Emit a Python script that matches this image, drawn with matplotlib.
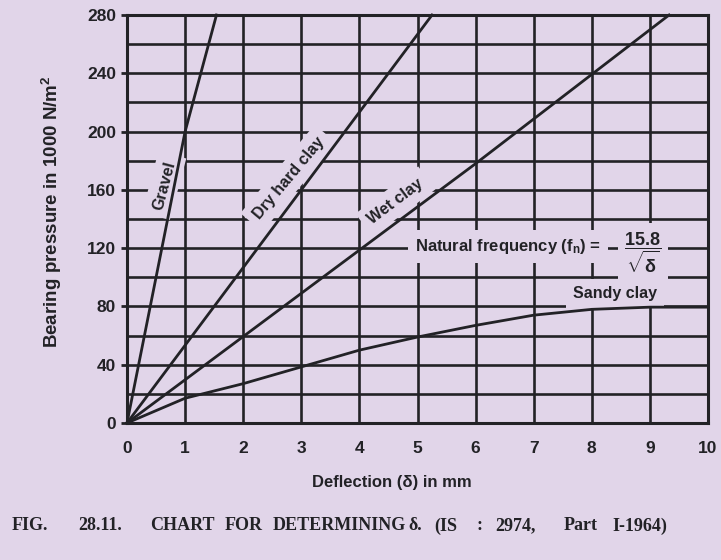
import matplotlib
matplotlib.use("Agg")
import matplotlib.pyplot as plt
import numpy as np

plt.rcParams["mathtext.fontset"] = "custom"
plt.rcParams["mathtext.rm"] = "Liberation Sans:bold"
plt.rcParams["mathtext.bf"] = "Liberation Sans:bold"
plt.rcParams["mathtext.it"] = "Liberation Sans:bold"
plt.rcParams["mathtext.sf"] = "Liberation Sans:bold"

# ---- data ----
gravel_x = [0, 1.0, 1.54]
gravel_y = [0, 200, 280]

dry_hard_clay_x = [0, 3.0, 5.25]
dry_hard_clay_y = [0, 160, 280]

wet_clay_x = [0, 3.0, 6.0, 9.33]
wet_clay_y = [0, 89, 178, 280]

sandy_clay_x = [0, 1, 2, 3, 4, 5, 6, 7, 8, 9, 10]
sandy_clay_y = [0, 17, 27, 38.5, 50, 59, 67, 74, 78, 79.5, 79.5]

x_ticks = [0, 1, 2, 3, 4, 5, 6, 7, 8, 9, 10]
y_ticks = [0, 40, 80, 120, 160, 200, 240, 280]
y_grid = list(range(0, 281, 20))

caption_words = ["FIG.", "28.11.", "CHART", "FOR", "DETERMINING", "\u03b4.",
                 "(IS", ":", "2974,", "Part", "I-1964)"]
caption_px = [12, 78, 150, 225, 273, 408, 434, 476, 495, 564, 612]

BG = "#e1d5e9"
INK = "#222226"
SANS = ["Liberation Sans", "DejaVu Sans"]
SERIF = ["Liberation Serif", "DejaVu Serif"]

W, H = 721, 560
fig = plt.figure(figsize=(W / 100, H / 100), dpi=100, facecolor=BG)
ax = fig.add_axes([127 / W, 1 - 423 / H, (708 - 127) / W, (423 - 15) / H])
ax.set_facecolor(BG)

ax.set_xlim(0, 10)
ax.set_ylim(0, 280)
ax.set_xticks(x_ticks)
ax.set_yticks(y_ticks)
ax.set_yticks(y_grid, minor=True)
ax.grid(True, which="both", color=INK, linewidth=1.9, zorder=1)
ax.set_axisbelow(True)

for s in ax.spines.values():
    s.set_linewidth(2.2)
    s.set_color(INK)

ax.tick_params(axis="y", which="major", length=4, width=2, color=INK, pad=4,
               labelsize=12.5, direction="out")
ax.tick_params(axis="y", which="minor", length=0)
ax.tick_params(axis="x", length=0, pad=13, labelsize=12.5)
for lab in ax.get_xticklabels() + ax.get_yticklabels():
    lab.set_fontfamily(SANS)
    lab.set_fontweight("bold")
    lab.set_color(INK)

lw = 2.0
ax.plot(gravel_x, gravel_y, color=INK, lw=lw, zorder=5, clip_on=False)
ax.plot(dry_hard_clay_x, dry_hard_clay_y, color=INK, lw=lw, zorder=5, clip_on=False)
ax.plot(wet_clay_x, wet_clay_y, color=INK, lw=lw, zorder=5, clip_on=False)
ax.plot(sandy_clay_x, sandy_clay_y, color=INK, lw=lw, zorder=5, clip_on=False)

box = dict(facecolor=BG, edgecolor="none", pad=5)
tk = dict(family=SANS, weight="bold", color=INK, va="center",
          rotation_mode="anchor", zorder=3, bbox=box)
ax.text(0.64, 163, "Gravel", fontsize=11.5, rotation=75, ha="center", **tk)
ax.text(2.78, 168, "Dry hard clay", fontsize=11.5, rotation=50, ha="center", **tk)
ax.text(4.62, 152, "Wet clay", fontsize=11.5, rotation=37, ha="center", **tk)
ax.text(4.95, 121,
        r"Natural frequency (f$_\mathregular{n}$) =",
        fontsize=12, rotation=0, ha="left", **tk)
ax.text(8.88, 117, r"$\dfrac{15.8}{\sqrt{\delta}}$",
        fontsize=13, rotation=0, ha="center", **tk)
ax.text(8.4, 89, "Sandy clay", fontsize=11.5, rotation=0, ha="center", **tk)

fig.text(392 / W, 1 - 482 / H, "Deflection (\u03b4) in mm", family=SANS,
         weight="bold", fontsize=12, color=INK, ha="center", va="center")
fig.text(52 / W, 1 - 212 / H, r"Bearing pressure in 1000 N/m$^\mathregular{2}$",
         family=SANS, weight="bold", fontsize=13.5, color=INK, ha="center",
         va="center", rotation=90)

for word, px in zip(caption_words, caption_px):
    fig.text(px / W, 1 - 526 / H, word, family=SERIF, weight="bold",
             fontsize=13, color=INK, ha="left", va="center")

fig.savefig("out.png", dpi=100, facecolor=BG)
